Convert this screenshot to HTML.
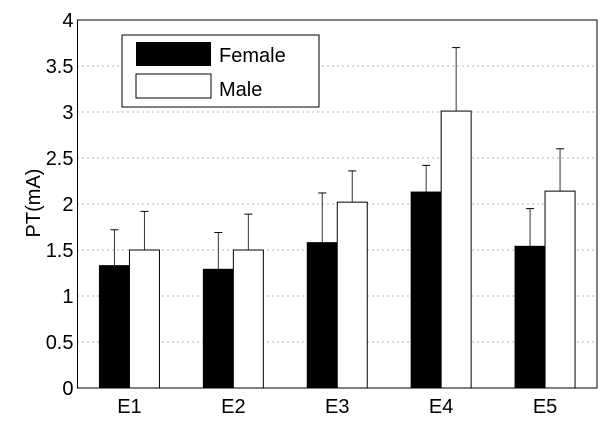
<!DOCTYPE html>
<html><head><meta charset="utf-8"><style>
body{margin:0;background:#fff}
svg text{font-family:"Liberation Sans",sans-serif;fill:#000}
</style></head><body>
<svg id="chart" width="600" height="424" xmlns="http://www.w3.org/2000/svg">
<rect width="600" height="424" fill="#fff"/>
<g id="grid"></g><g id="bars"></g><g id="axes"></g>
<g>
<rect x="122" y="35" width="197" height="72" fill="#fff" stroke="#000" stroke-width="1"/>
<rect x="136" y="42" width="75" height="24" fill="#000"/>
<text x="219" y="62" font-size="20">Female</text>
<rect x="136" y="74" width="75" height="24" fill="#fff" stroke="#000"/>
<text x="219" y="96" font-size="20">Male</text>
</g>
<text transform="translate(40,203) rotate(-90)" text-anchor="middle" font-size="20">PT(mA)</text>
</svg>
<script>
const categories=["E1","E2","E3","E4","E5"];
const female=[1.33,1.29,1.58,2.13,1.54];
const femaleErr=[0.39,0.40,0.54,0.29,0.41];
const male=[1.50,1.50,2.02,3.01,2.14];
const maleErr=[0.42,0.39,0.34,0.69,0.46];
const yTicks=[0,0.5,1,1.5,2,2.5,3,3.5,4];
const yTickLabels=["0","0.5","1","1.5","2","2.5","3","3.5","4"];
const NS="http://www.w3.org/2000/svg";
const L=77.5,R=597,T=20,B=388,yMax=4;
const y=v=>B-(v/yMax)*(B-T);
const band=(R-L)/categories.length;
const xc=i=>L+band*(i+0.5);
const bw=30;
function mk(tag,attrs,parent){const e=document.createElementNS(NS,tag);for(const k in attrs)e.setAttribute(k,attrs[k]);parent.appendChild(e);return e;}
const grid=document.getElementById('grid'),bars=document.getElementById('bars'),axes=document.getElementById('axes');
yTicks.forEach((t,i)=>{
  if(t>0&&t<yMax){const g=mk('line',{x1:L,x2:R,y1:y(t),y2:y(t),stroke:'#666','stroke-width':1,'stroke-dasharray':'1,4'},grid);
  
  }
  const tx=mk('text',{x:L-4,y:y(t)+7,'text-anchor':'end','font-size':20},axes);
  tx.textContent=yTickLabels[i];
  
  
});
function bar(cx,v,e,fill,name){
  const top=y(v);
  const ln=mk('line',{x1:cx,x2:cx,y1:y(v+e),y2:top,stroke:'#333','stroke-width':1},bars);
  
  
  const cap=mk('line',{x1:cx-4,x2:cx+4,y1:y(v+e),y2:y(v+e),stroke:'#000','stroke-width':1},bars);
  
  
  const r=mk('rect',{x:cx-bw/2,y:top,width:bw,height:B-top,fill:fill,stroke:'#000','stroke-width':1},bars);
  
  
}
categories.forEach((c,i)=>{
  bar(xc(i)-bw/2,female[i],femaleErr[i],'#000','bar-female-'+c.toLowerCase());
  bar(xc(i)+bw/2,male[i],maleErr[i],'#fff','bar-male-'+c.toLowerCase());
  const t=mk('text',{x:xc(i),y:B+25,'text-anchor':'middle','font-size':20},axes);
  t.textContent=c;
  
  
});
const frame=mk('rect',{x:L,y:T,width:R-L,height:B-T,fill:'none',stroke:'#000','stroke-width':1},axes);


</script>
</body></html>
